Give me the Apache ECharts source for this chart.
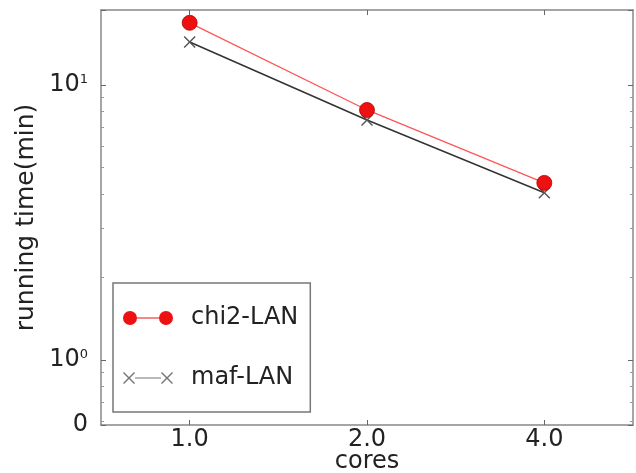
<!DOCTYPE html>
<html>
<head>
<meta charset="utf-8">
<script src="https://cdn.jsdelivr.net/npm/echarts@6/dist/echarts.min.js"></script>
<style>
  html, body { margin: 0; padding: 0; background: #fff; }
  #main { width: 636px; height: 473px; }
</style>
</head>
<body>
<div id="main"></div>
<script>
// x categories (cores) and running time in minutes
let cores = ['1.0', '2.0', '4.0'];
let chi2Lan = [16.8, 8.1, 4.4];
let mafLan = [14.3, 7.45, 4.05];

// log axis range
let yMin = 0.58;
let yMax = 18.7;

let font = 'DejaVu Sans';
let crossPath = 'path://M0,1L1,0L6,5L11,0L12,1L7,6L12,11L11,12L6,7L1,12L0,11L5,6Z';
// legend icons: marker - line - marker
let chi2Icon = 'path://M0,7A7,7 0 1 1 14,7A7,7 0 1 1 0,7Z M36,7A7,7 0 1 1 50,7A7,7 0 1 1 36,7Z M14,6.5H36V7.5H14Z';
let mafIcon = 'path://M0,2L1,1L6,6L11,1L12,2L7,7L12,12L11,13L6,8L1,13L0,12L5,7Z M38,2L39,1L44,6L49,1L50,2L45,7L50,12L49,13L44,8L39,13L38,12L43,7Z M12,6.5H38V7.5H12Z';

let chart = echarts.init(document.getElementById('main'));

let frameLine = { show: true, lineStyle: { color: '#888', width: 1.5 } };
let innerTick = { show: true, inside: true, length: 5, alignWithLabel: true, lineStyle: { color: '#666', width: 1 } };
let minor = { show: true, splitNumber: 9, length: 3, lineStyle: { color: '#999', width: 1 } };

function yLabel(v) {
    if (Math.abs(v - 1) < 1e-6) return '{b|10}{s|0}';
    if (Math.abs(v - 10) < 1e-5) return '{b|10}{s|1}';
    if (v < 0.9) return '{b|0}';
    return '';
}

let option = {
    backgroundColor: '#fff',
    animation: false,
    grid: { left: 101, right: 3, top: 10, bottom: 48, outerBoundsMode: 'none', containLabel: false },
    legend: {
        orient: 'vertical',
        left: 113,
        top: 283,
        padding: [23, 12, 22, 10],
        itemGap: 36,
        itemWidth: 50,
        itemHeight: 14,
        borderColor: '#777',
        borderWidth: 1.5,
        textStyle: { fontFamily: font, fontSize: 24, color: '#222', padding: [0, 0, 0, 13] },
        data: [
            { name: 'chi2-LAN', icon: chi2Icon, itemStyle: { color: '#ee1111', borderWidth: 0 } },
            { name: 'maf-LAN', icon: mafIcon, itemStyle: { color: '#777', borderWidth: 0 } }
        ]
    },
    xAxis: [
        {
            type: 'category',
            data: cores,
            position: 'bottom',
            name: 'cores',
            nameLocation: 'middle',
            nameGap: 25,
            nameMoveOverlap: false,
            nameTextStyle: { fontFamily: font, fontSize: 24, color: '#222', lineHeight: 24 },
            axisLine: frameLine,
            axisTick: innerTick,
            axisLabel: { fontFamily: font, fontSize: 24, color: '#222', margin: 3 }
        },
        {
            type: 'category',
            data: cores,
            position: 'top',
            axisLine: frameLine,
            axisTick: innerTick,
            axisLabel: { show: false }
        }
    ],
    yAxis: [
        {
            type: 'log',
            logBase: 10,
            min: yMin,
            max: yMax,
            position: 'left',
            name: 'running time(min)',
            nameLocation: 'middle',
            nameGap: 62,
            nameMoveOverlap: false,
            nameTextStyle: { fontFamily: font, fontSize: 25, color: '#222' },
            axisLine: frameLine,
            axisTick: innerTick,
            minorTick: minor,
            splitLine: { show: false },
            axisLabel: {
                margin: 13,
                formatter: yLabel,
                rich: {
                    b: { fontFamily: font, fontSize: 24, color: '#222' },
                    s: { fontFamily: font, fontSize: 13, color: '#222', verticalAlign: 'top', padding: [0, 0, 8, 0] }
                }
            }
        },
        {
            type: 'log',
            logBase: 10,
            min: yMin,
            max: yMax,
            position: 'right',
            axisLine: frameLine,
            axisTick: innerTick,
            minorTick: minor,
            splitLine: { show: false },
            axisLabel: { show: false }
        }
    ],
    series: [
        {
            name: 'maf-LAN',
            type: 'line',
            data: mafLan,
            symbol: crossPath,
            symbolSize: 12,
            itemStyle: { color: '#555' },
            lineStyle: { color: '#333', width: 1.5 },
            emphasis: { disabled: true }
        },
        {
            name: 'chi2-LAN',
            type: 'line',
            data: chi2Lan,
            symbol: 'circle',
            symbolSize: 15,
            itemStyle: { color: '#ee1111', borderColor: '#b00000', borderWidth: 0.8 },
            lineStyle: { color: '#ff5555', width: 1.3 },
            emphasis: { disabled: true }
        }
    ]
};

chart.setOption(option);
</script>
</body>
</html>
